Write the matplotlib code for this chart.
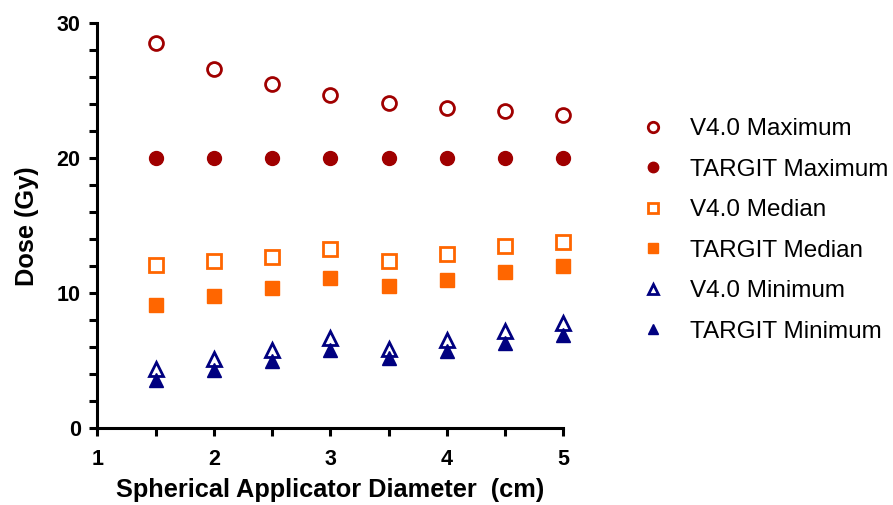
import numpy as np
import matplotlib
matplotlib.use("Agg")
import matplotlib.pyplot as plt
from matplotlib.ticker import MultipleLocator, FixedLocator

plt.rcParams['font.family'] = ['Liberation Sans', 'DejaVu Sans']

diam = [1.5, 2.0, 2.5, 3.0, 3.5, 4.0, 4.5, 5.0]
v4_max = [28.5, 26.6, 25.5, 24.7, 24.1, 23.7, 23.5, 23.2]
targit_max = [20.0, 20.0, 20.0, 20.0, 20.0, 20.0, 20.0, 20.0]
v4_med = [12.1, 12.4, 12.7, 13.3, 12.4, 12.9, 13.5, 13.8]
targit_med = [9.1, 9.8, 10.4, 11.1, 10.5, 11.0, 11.6, 12.0]
v4_min = [4.4, 5.1, 5.8, 6.7, 5.9, 6.5, 7.2, 7.8]
targit_min = [3.6, 4.3, 5.0, 5.8, 5.2, 5.7, 6.3, 6.9]

red = '#A00000'
orange = '#FF6600'
navy = '#000080'

fig = plt.figure(figsize=(8.93, 5.05), dpi=100)
ax = fig.add_axes([0.109, 0.152, 0.522, 0.802])

ms = 10
ax.plot(diam, v4_max, 'o', ms=ms, mfc='white', mec=red, mew=2, label='V4.0 Maximum', clip_on=False)
ax.plot(diam, targit_max, 'o', ms=ms, mfc=red, mec=red, label='TARGIT Maximum', clip_on=False)
ax.plot(diam, v4_med, 's', ms=ms - 0.5, mfc='white', mec=orange, mew=2, label='V4.0 Median', clip_on=False)
ax.plot(diam, targit_med, 's', ms=ms - 0.5, mfc=orange, mec=orange, label='TARGIT Median', clip_on=False)
ax.plot(diam, v4_min, '^', ms=ms, mfc='white', mec=navy, mew=2, label='V4.0 Minimum', clip_on=False)
ax.plot(diam, targit_min, '^', ms=ms, mfc=navy, mec=navy, label='TARGIT Minimum', clip_on=False)

ax.set_xlim(1, 5)
ax.set_ylim(0, 30)
ax.spines['top'].set_visible(False)
ax.spines['right'].set_visible(False)
for s in ('left', 'bottom'):
    ax.spines[s].set_linewidth(2.2)

ax.xaxis.set_major_locator(FixedLocator([1, 2, 3, 4, 5]))
ax.xaxis.set_minor_locator(FixedLocator([1.5, 2.5, 3.5, 4.5]))
ax.yaxis.set_major_locator(MultipleLocator(10))
ax.yaxis.set_minor_locator(MultipleLocator(2))
ax.tick_params(which='both', direction='out', width=2.2, length=6)
ax.tick_params(axis='y', which='major', pad=6)
ax.tick_params(axis='x', which='major', pad=9)
for lab in ax.get_xticklabels() + ax.get_yticklabels():
    lab.set_fontsize(15.5)
    lab.set_fontweight('bold')

ax.set_xlabel('Spherical Applicator Diameter  (cm)', fontsize=18.3, fontweight='bold', labelpad=6)
ax.set_ylabel('Dose (Gy)', fontsize=18.3, fontweight='bold', labelpad=13)

leg = fig.legend(loc='center left', bbox_to_anchor=(0.718, 0.5436), frameon=False,
                 fontsize=17.5, markerscale=0.75, labelspacing=0.76, handletextpad=1.0,
                 handlelength=1.0, borderpad=0, borderaxespad=0)

fig.savefig('out.png', dpi=100)
